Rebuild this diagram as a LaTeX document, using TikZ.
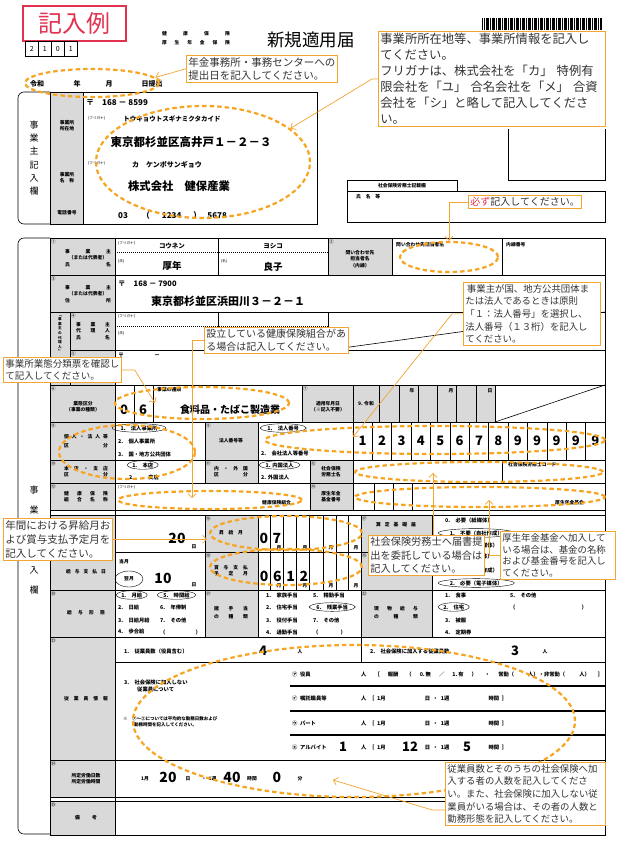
\documentclass[tikz,border=0pt]{standalone}
\usepackage{fontspec}
\setmainfont{Noto Sans CJK JP}
\usetikzlibrary{arrows.meta, positioning, shapes.geometric, calc}
\definecolor{note}{HTML}{F2A530}
\definecolor{markline}{HTML}{F7A520}
\definecolor{cellgray}{HTML}{D9D9D9}
\definecolor{stamp}{HTML}{E23250}
\newcommand{\spr}[2]{\makebox[#1pt]{#2}}

\begin{document}
\begin{tikzpicture}[
        x=1pt, y=-1pt,
        form/.style={line width=0.6pt},
        thickrule/.style={line width=1.6pt},
        dotrule/.style={line width=1pt, dash pattern=on 1pt off 1pt},
        lab/.style={font=\bfseries\fontsize{4.8}{6.2}\selectfont, align=center, inner sep=0},
        txt/.style={font=\bfseries\fontsize{5.3}{6.5}\selectfont, anchor=west, inner sep=0},
        small/.style={font=\fontsize{3.6}{3.6}\selectfont, anchor=west, inner sep=0},
        num/.style={font=\fontsize{4.5}{4.5}\selectfont, anchor=north west, inner sep=0},
        hand/.style={font=\bfseries\fontsize{#1}{#1}\selectfont, inner sep=0},
        chosen/.style={draw, ellipse, thin, inner sep=0.5pt},
        ring/.style={draw=markline, line width=2.2pt, dash pattern=on 4.5pt off 3pt, ellipse, inner sep=0},
        callout/.style 2 args={draw=note, line width=0.8pt, fill=white, align=left, anchor=north west,
            inner sep=2pt, text=black!80, font=\fontsize{#1}{#2}\selectfont},
        lead/.style={draw=note, line width=0.7pt, -{Straight Barb[length=4pt, width=8pt]}}
    ]

    \fill[white] (0,0) rectangle (621,850);
    \useasboundingbox (0,0) rectangle (621,850);

    % --- HEADER ---
    \node (stamp) [draw=stamp, line width=1.8pt, text=stamp, font=\fontsize{24}{24}\selectfont,
        minimum width=103pt, minimum height=35pt, inner sep=0, anchor=north west] at (22,5) {記入例};
    \foreach \d [count=\i] in {2,1,0,1}
        \node (code\i) [draw, form, minimum width=13pt, minimum height=15pt, inner sep=0,
            anchor=north west, font=\fontsize{7}{7}\selectfont] at ({25+13*(\i-1)},41) {\d};
    \node (hoken) [lab] at (196,34) {\spr{68}{健\hfill 康\hfill 保\hfill 険}};
    \node (nenkin) [lab] at (196,43) {\spr{68}{厚\hfill 生\hfill 年\hfill 金\hfill 保\hfill 険}};
    \node (title) [font=\fontsize{17.5}{17.5}\selectfont, inner sep=0] at (311,40) {新規適用届};
    \foreach \i in {0,...,59} {
        \pgfmathsetmacro\bw{0.5+0.5*mod(\i*7,3)}
        \fill (482+2*\i,18) rectangle ++(\bw,12);
    }
    \draw[form] (508,129) -- (508,180) -- (605,180) -- (605,129);

    \node (reiwa) [lab, font=\bfseries\fontsize{7}{7}\selectfont] at (37,84) {令和};
    \node (year) [lab, font=\bfseries\fontsize{7}{7}\selectfont] at (77,84) {年};
    \node (month) [lab, font=\bfseries\fontsize{7}{7}\selectfont] at (109,84) {月};
    \node (day) [lab, font=\bfseries\fontsize{7}{7}\selectfont] at (152,84) {日提出};

    % --- OWNER BLOCK ---
    \fill[cellgray] (50,92) rectangle (83,224);
    \draw[form, rounded corners=6pt] (50,92) -- (18,92) -- (18,224) -- (50,224);
    \draw[form] (50,92) rectangle (317,224);
    \draw[form] (83,92) -- (83,224);
    \node (owner) [font=\fontsize{9}{13.3}\selectfont, align=center, inner sep=0] at (34,158) {事\\業\\主\\記\\入\\欄};
    \node (lloc) [lab] at (67,126) {事業所\\所在地};
    \node (lname) [lab] at (67,178) {事業所\\\spr{14.4}{名\hfill 称}};
    \node (ltel) [lab] at (67,213) {電話番号};
    \node (zip1) [hand=8, anchor=west] at (86,103) {〒\hspace{8pt}168 － 8599};
    \node (kana1) [small] at (88,118) {(フリガナ)};
    \node (kaddr) [hand=6.5] at (172,119) {トウキョウトスギナミクタカイド};
    \node (addr) [hand=11.5] at (191,142) {東京都杉並区高井戸１－２－３};
    \node (kana2) [small] at (88,163) {(フリガナ)};
    \node (kname) [hand=7] at (167,165) {カ　ケンポサンギョウ};
    \node (office) [hand=11.3] at (179,186) {株式会社　健保産業};
    \node (tel) [hand=8, anchor=west] at (118,215) {03\hspace{14pt}（\hspace{12pt}1234\hspace{12pt}）\hspace{6pt}5678};

    \draw[form] (347,180) rectangle (457,191);
    \draw[form] (347,191) rectangle (605,222);
    \node (lsharo) [lab] at (402,185.5) {社会保険労務士記載欄};
    \node (lsign) [lab, anchor=west] at (356,197) {氏　名　等};

    % --- OFFICE FORM: GRID ---
    \fill[cellgray] (50,238) rectangle (115,510);
    \fill[cellgray] (50,515) rectangle (115,797);
    \fill[cellgray] (50,801) rectangle (115,835);
    \fill[cellgray] (328,238) rectangle (392,275);
    \fill[cellgray] (302,385) rectangle (495,422);
    \fill[cellgray] (205,422) rectangle (258,483);
    \fill[cellgray] (310,460) rectangle (353,510);
    \fill[cellgray] (205,515) rectangle (258,637);
    \fill[cellgray] (361,515) rectangle (432,637);

    \draw[form, rounded corners=6pt] (50,238) -- (18,238) -- (18,834) -- (50,834);
    \draw[form] (50,238) rectangle (605,835);
    \draw[form] (115,238) -- (115,835);
    \draw[form] (70,312) -- (70,385);
    \foreach \y in {275,312,385,422,460,483,510,515,590,637,760,797,801}
        \draw[form] (50,\y) -- (605,\y);
    \draw[form] (70,350) -- (605,350);
    \draw[form] (115,552) -- (432,552);
    \draw[form] (115,662) -- (605,662);

    \foreach \x in {218,328,392,502}
        \draw[form] (\x,238) -- (\x,275);
    \draw[dotrule] (115,252) -- (328,252);
    \draw[form] (218,312) -- (218,350);
    \draw[form] (328,312) -- (328,350);
    \draw[dotrule] (115,326) -- (328,326);
    \draw[form] (328,350) -- (605,312);
    \foreach \x in {134,153,302,353,379,399,418,437,456,476,495}
        \draw[form] (\x,385) -- (\x,422);
    \draw[form] (495,422) -- (605,385);
    \foreach \x in {205,258,353}
        \draw[form] (\x,422) -- (\x,460);
    \foreach \i in {1,...,12}
        \draw[form] ({353+19.385*\i},422) -- ++(0,38);
    \foreach \x in {205,258,310,353,502}
        \draw[form] (\x,460) -- (\x,483);
    \foreach \x in {310,353,374,393,412}
        \draw[form] (\x,483) -- (\x,510);
    \foreach \x in {205,258,361,432}
        \draw[form] (\x,515) -- (\x,637);
    \foreach \x in {270,283,296,309,323,336,348}
        \draw[form] (\x,515) -- (\x,590);
    \draw[form] (361,637) -- (361,662);
    \foreach \y in {686,711,735}
        \draw[thickrule] (290,\y) -- (605,\y);

    \node (office2) [font=\fontsize{9}{20}\selectfont, align=center, inner sep=0] at (34,540) {事\\業\\所\\記\\入\\欄};

    % --- ROWS 1-4 ---
    \node (c1) [num] at (51,239) {①};
    \node (lown) [lab] at (88,258) {\spr{46}{事\hfill 業\hfill 主}\\\spr{46}{（または代表者）}\\\spr{46}{氏\hfill 名}};
    \node (k1) [small] at (118,243) {(フリガナ)};
    \node (ksei) [hand=6.5] at (172,246) {コウネン};
    \node (kmei) [hand=6.5] at (273,246) {ヨシコ};
    \node (tsei) [small] at (118,261) {(氏)};
    \node (sei) [hand=9.5] at (172,266) {厚年};
    \node (tmei) [small] at (221,261) {(名)};
    \node (mei) [hand=9.5] at (273,267) {良子};
    \node (c2) [num] at (329,239) {②};
    \node (lcont) [lab] at (360,259) {問い合わせ先\\担当者名\\（内線）};
    \node (tcont) [lab, anchor=west] at (396,245) {問い合わせ先担当者名};
    \node (tline) [lab, anchor=west] at (506,245) {内線番号};

    \node (c3) [num] at (51,276) {③};
    \node (lhome) [lab] at (88,294) {\spr{46}{事\hfill 業\hfill 主}\\\spr{46}{（または代表者）}\\\spr{46}{住\hfill 所}};
    \node (zip2) [hand=7.5, anchor=west] at (118,284) {〒\hspace{8pt}168 － 7900};
    \node (home) [hand=11] at (228,301) {東京都杉並区浜田川３－２－１};

    \node (agentv) [font=\bfseries\fontsize{3.6}{4.6}\selectfont, align=center, inner sep=0] at (60,334) {﹁\\事\\業\\主\\の\\代\\理\\人\\﹂};
    \node (c4) [num] at (71,313) {④};
    \node (lagent) [lab] at (93,331) {\spr{34}{事\hfill 業\hfill 主}\\\spr{34}{代\hfill 理\hfill 人}\\\spr{34}{氏\hfill 名}};
    \node (k4) [small] at (118,316) {(フリガナ)};
    \node (t4) [small] at (118,333) {(氏)};
    \node (c5) [num] at (71,351) {⑤};
    \node (zip3) [hand=6, anchor=west] at (118,355) {〒\hspace{30pt}－};

    % --- ROWS 5-8 ---
    \node (c6) [num] at (51,386) {⑥};
    \node (lkind) [lab] at (83,407) {業態区分\\（事業の種類）};
    \node (kd1) [hand=13] at (124,410) {0};
    \node (kd2) [hand=13] at (143,410) {6};
    \node (tkindname) [lab, anchor=west] at (157,390) {事業の種類};
    \node (kind) [hand=10] at (230,410) {食料品・たばこ製造業};
    \node (c7) [num] at (303,386) {⑦};
    \node (ldate) [lab] at (328,407) {適用年月日\\（※記入不要）};
    \node (era) [lab] at (366,404) {9. 令和};
    \node (dy) [lab] at (412,391) {年};
    \node (dm) [lab] at (451,391) {月};
    \node (dd) [lab] at (490,391) {日};

    \node (c8) [num] at (51,423) {⑧};
    \node (lcorp) [lab] at (86,441) {\spr{44}{個\hfill 人\hfill ・\hfill 法\hfill 人\hfill 等}\\[3pt]\spr{44}{区\hfill 分}};
    \node (o11) [txt, chosen] at (112,428) {1.\quad 法人事業所};
    \node (o12) [txt] at (118,441) {2.\quad 個人事業所};
    \node (o13) [txt] at (118,454) {3.\quad 国・地方公共団体};
    \node (c9) [num] at (206,423) {⑨};
    \node (lnum) [lab] at (231,441) {法人番号等};
    \node (o21) [txt, chosen] at (260,428) {1.\quad 法人番号};
    \node (o22) [txt] at (261,453) {2.\quad 会社法人等番号};
    \foreach \d [count=\i] in {1,2,3,4,5,6,7,8,9,9,9,9,9}
        \node (dig\i) [hand=13] at ({353+19.385*(\i-0.5)},441) {\d};

    \node (c10) [num] at (51,461) {⑩};
    \node (lbranch) [lab] at (86,472) {\spr{44}{本\hfill 店\hfill ・\hfill 支\hfill 店}\\\spr{44}{区\hfill 分}};
    \node (o31) [txt, chosen] at (127,465) {1.\quad 本店};
    \node (o32) [txt] at (129,477) {2.\hspace{14pt}支店};
    \node (c11) [num] at (206,461) {⑪};
    \node (lforeign) [lab] at (231,472) {\spr{34}{内\hfill ・\hfill 外\hfill 国}\\\spr{34}{区\hfill 分}};
    \node (o41) [txt, chosen] at (259,465) {1. 内国法人};
    \node (o42) [txt] at (261,477) {2. 外国法人};
    \node (c12) [num] at (311,461) {⑫};
    \node (lsharo2) [lab] at (331,472) {社会保険\\労務士名};
    \node (tcode) [lab, anchor=west] at (508,465) {社会保険労務士コード};

    \node (c13) [num] at (51,484) {⑬};
    \node (lunion) [lab] at (86,497) {\spr{44}{健\hfill 康\hfill 保\hfill 険}\\\spr{44}{組\hfill 合\hfill 名\hfill 称}};
    \node (k8) [small] at (118,487) {(フリガナ)};
    \node (tunion) [lab, anchor=west] at (262,503) {健康保険組合};
    \node (c14) [num] at (311,484) {⑭};
    \node (lfund) [lab] at (331,497) {厚生年金\\基金番号};
    \node (tfundname) [lab, anchor=west] at (555,503) {厚生年金基金};

    % --- ROWS 9-11 ---
    \node (cutday) [hand=14] at (177,538) {20};
    \node (cutunit) [lab] at (194,547) {日};
    \node (c16) [num] at (206,516) {⑯};
    \node (lraise) [lab] at (231,533) {\spr{24}{昇\hfill 給\hfill 月}};
    \node (ra1) [hand=14] at (264,538) {0};
    \node (ra2) [hand=14] at (277,538) {7};
    \foreach \x [count=\i] in {279,305,331,356}
        \node (mr\i) [lab] at (\x,548) {月};
    \node (c17) [num] at (362,516) {⑰};
    \node (lcalc) [lab] at (396,525) {\spr{40}{算\hfill 定\hfill 基\hfill 礎\hfill 届}};
    \node (p1) [txt] at (445,521) {0.\quad 必要（紙媒体）};
    \node (p2) [txt, chosen] at (438,533) {1.\quad 不要（自社作成）};
    \node (p3) [txt] at (445,545) {2.\quad 必要（電子媒体）};
    \node (p4) [txt] at (445,557) {0.\quad 必要（紙媒体）};
    \node (p5) [txt] at (445,570) {1.\quad 不要（自社作成）};
    \node (p6) [txt, chosen] at (438,583) {2.\quad 必要（電子媒体）};

    \node (lpay) [lab] at (86,572) {\spr{40}{給\hfill 与\hfill 支\hfill 払\hfill 日}};
    \node (pthis) [lab] at (124,562) {当月};
    \node (pnext) [lab, chosen, minimum width=28pt, minimum height=16pt] at (129,579) {翌月};
    \node (payday) [hand=14] at (163,578) {10};
    \node (payunit) [lab] at (194,585) {日};
    \node (c18) [num] at (206,553) {⑱};
    \node (lbonus) [lab] at (231,571) {\spr{34}{賞\hfill 与\hfill 支\hfill 払}\\\spr{34}{予\hfill 定\hfill 月}};
    \foreach \d [count=\i] in {0,6,1,2}
        \node (bo\i) [hand=14] at ({251+13.2*\i},576) {\d};
    \foreach \x [count=\i] in {279,305,331,356}
        \node (mb\i) [lab] at (\x,586) {月};
    \node (c19) [num] at (362,553) {⑲};

    \node (c20) [num] at (51,591) {⑳};
    \node (lwage) [lab] at (86,613) {\spr{38}{給\hfill 与\hfill 形\hfill 態}};
    \node (w1) [txt, chosen] at (116,595) {1.\quad 月給};
    \node (w2) [txt] at (118,607) {2.\quad 日給};
    \node (w3) [txt] at (118,620) {3.\quad 日給月給};
    \node (w4) [txt] at (118,632) {4.\quad 歩合給};
    \node (w5) [txt, chosen] at (157,595) {5.\quad 時間給};
    \node (w6) [txt] at (160,607) {6.\quad 年俸制};
    \node (w7) [txt] at (160,620) {7.\quad その他};
    \node (w8) [txt] at (160,632) {（\hspace{30pt}）};
    \node (c21) [num] at (206,591) {㉑};
    \node (lallow) [lab] at (231,613) {\spr{34}{諸\hfill 手\hfill 当}\\[2pt]\spr{34}{の\hfill 種\hfill 類}};
    \node (a1) [txt] at (266,595) {1.\quad 家族手当};
    \node (a2) [txt] at (266,607) {2.\quad 住宅手当};
    \node (a3) [txt] at (266,620) {3.\quad 役付手当};
    \node (a4) [txt] at (266,632) {4.\quad 通勤手当};
    \node (a5) [txt] at (313,595) {5.\quad 精勤手当};
    \node (a6) [txt, chosen] at (309,607) {6.\quad 残業手当};
    \node (a7) [txt] at (313,620) {7.\quad その他};
    \node (a8) [txt] at (313,632) {（\hspace{22pt}）};
    \node (c22) [num] at (362,591) {㉒};
    \node (lgoods) [lab] at (396,613) {\spr{44}{現\hfill 物\hfill 給\hfill 与}\\[2pt]\spr{44}{の\hfill 種\hfill 類}};
    \node (g1) [txt] at (445,595) {1.\quad 食事};
    \node (g2) [txt, chosen] at (438,607) {2.\quad 住宅};
    \node (g3) [txt] at (445,620) {3.\quad 被服};
    \node (g4) [txt] at (445,632) {4.\quad 定期券};
    \node (g5) [txt] at (510,595) {5.\quad その他};
    \node (g6) [txt] at (510,607) {（\hspace{66pt}）};

    % --- ROWS 12-14 ---
    \node (c23) [num] at (51,638) {㉓};
    \node (lstaff) [lab] at (86,699) {\spr{44}{従\hfill 業\hfill 員\hfill 情\hfill 報}};
    \node (s1) [txt] at (124,651) {1.\quad 従業員数（役員含む）};
    \node (s1n) [hand=13] at (263,651) {4};
    \node (s1u) [lab] at (300,652) {人};
    \node (s2) [txt] at (370,651) {2.\quad 社会保険に加入する従業員数};
    \node (s2n) [hand=13] at (515,651) {3};
    \node (s2u) [lab] at (545,652) {人};
    \node (s3) [txt, align=left] at (124,686) {3.\quad 社会保険に加入しない\\\hspace*{13pt}従業員について};
    \node (snote) [txt, font=\bfseries\fontsize{4.5}{6}\selectfont, align=left] at (123,722)
        {※\quad ㋐～㋓については平均的な勤務日数および\\\hspace*{11pt}勤務時間を記入してください。};
    \node (ka) [txt] at (292,674) {㋐\enspace 役員};
    \node (kb) [txt] at (292,698) {㋑\enspace 嘱託職員等};
    \node (kc) [txt] at (292,723) {㋒\enspace パート};
    \node (kd) [txt] at (292,747) {㋓\enspace アルバイト};
    \node (kat) [txt] at (361,674) {\spr{242}{人\hfill ［\hfill 報酬\hfill （\hfill 0.\,無\hfill ／\hfill 1.\,有\hfill ）\hfill ・\hfill 常勤（\hspace{14pt}人）・非常勤（\hspace{14pt}人）\hfill ］}};
    \node (kbt) [txt] at (361,698) {\spr{146}{人\enspace［\enspace 1月\hfill 日\enspace ・\enspace 1週\hfill 時間\enspace ］}};
    \node (kct) [txt] at (361,723) {\spr{146}{人\enspace［\enspace 1月\hfill 日\enspace ・\enspace 1週\hfill 時間\enspace ］}};
    \node (kdt) [txt] at (361,747) {\spr{146}{人\enspace［\enspace 1月\hfill 日\enspace ・\enspace 1週\hfill 時間\enspace ］}};
    \node (kdn) [hand=13] at (343,747) {1};
    \node (kdd) [hand=13] at (410,747) {12};
    \node (kdh) [hand=13] at (467,747) {5};

    \node (c24) [num] at (51,761) {㉔};
    \node (lhours) [lab] at (86,779) {所定労働日数\\所定労働時間};
    \node (h1) [lab] at (145,779) {1月};
    \node (h2) [hand=14] at (168,777) {20};
    \node (h3) [lab] at (188,779) {日};
    \node (h4) [lab] at (209,779) {・\enspace 1週};
    \node (h5) [hand=14] at (232,777) {40};
    \node (h6) [lab] at (252,779) {時間};
    \node (h7) [hand=14] at (277,777) {0};
    \node (h8) [lab] at (300,779) {分};

    \node (c25) [num] at (51,802) {㉕};
    \node (lremark) [lab] at (86,818) {\spr{22}{備\hfill 考}};

    % --- MARKS ---
    \node (rdate) [ring, minimum width=134pt, minimum height=28pt] at (92,83) {};
    \node (raddr) [ring, minimum width=214pt, minimum height=112pt] at (203,162) {};
    \node (rcontact) [ring, minimum width=98pt, minimum height=30pt] at (449,257) {};
    \node (rkind) [ring, minimum width=174pt, minimum height=32pt] at (202,403) {};
    \node (rcorp) [ring, minimum width=136pt, minimum height=54pt] at (127,452) {};
    \node (rnum) [ring, minimum width=340pt, minimum height=28pt] at (435,440) {};
    \node (rsharo) [ring, minimum width=248pt, minimum height=20pt] at (479,472) {};
    \node (rfund) [ring, minimum width=250pt, minimum height=20pt] at (480,497) {};
    \node (rkumiai) [ring, minimum width=184pt, minimum height=18pt] at (210,500) {};
    \node (rraise) [ring, minimum width=152pt, minimum height=34pt] at (286,533) {};
    \node (rbonus) [ring, minimum width=152pt, minimum height=36pt] at (286,567) {};
    \node (rstaff) [ring, minimum width=442pt, minimum height=152pt] at (354,721) {};

    \coordinate (tkumiai) at (192,498);
    \coordinate (tkind) at (155,403);
    \coordinate (tnum) at (353,437);
    \coordinate (traise) at (207,542);
    \coordinate (tsharo) at (433,473);
    \coordinate (tfund) at (489,500);
    \coordinate (tstaff) at (333,780);

    % --- CALLOUTS ---
    \node (nsubmit) [callout={10.5}{13}] at (186,55) {年金事務所・事務センターへの\\提出日を記入してください。};
    \node (noffice) [callout={12.3}{16}, text width=223pt] at (378,31)
        {事業所所在地等、事業所情報を記入し\\てください。\\フリガナは、株式会社を「カ」 特例有\\限会社を「ユ」 合名会社を「メ」 合資\\会社を「シ」と略して記入してくださ\\い。};
    \node (nmust) [callout={10}{12}] at (468,195) {{\color{stamp}必ず}記入してください。};
    \node (nunion) [callout={10}{13}] at (204,327) {設立している健康保険組合があ\\る場合は記入してください。};
    \node (nbiz) [callout={9.5}{12.5}] at (3,357) {事業所業態分類票を確認し\\て記入してください。};
    \node (ncorp) [callout={9.4}{12.6}, text width=133pt] at (463,282)
        {\,事業主が国、地方公共団体ま\\たは法人であるときは原則\\「１：法人番号」を選択し、\\法人番号（１３桁）を記入し\\てください。};
    \node (nraise) [callout={10.5}{14}] at (3,518) {年間における昇給月お\\よび賞与支払予定月を\\記入してください。};
    \node (nsharo) [callout={10.2}{13.5}] at (368,535) {社会保険労務士へ届書提\\出を委託している場合は\\記入してください。};
    \node (nfund) [callout={9.4}{11.7}, text width=111pt] at (500,531)
        {厚生年金基金へ加入して\\いる場合は、基金の名称\\および基金番号を記入し\\てください。};
    \node (nstaff) [callout={9.4}{12.6}, text width=156pt] at (445,762)
        {従業員数とそのうちの社会保険へ加\\入する者の人数を記入してくださ\\い。また、社会保険に加入しない従\\業員がいる場合は、その者の人数と\\勤務形態を記入してください。};

    % --- LEADS ---
    \draw[lead] (nsubmit.west) -- (rdate.5);
    \draw[lead] (noffice.west) -- ++(-6,0) -- (raddr.21);
    \draw[lead] (nmust.west) -| (rcontact.north);
    \draw[lead] (nunion.west) -| (tkumiai);
    \draw[lead] (nbiz.east) -- ++(13,0) -- (tkind);
    \draw[lead] (ncorp.west) -- ++(-11,0) -- (tnum);
    \draw[lead] (nraise.east) -- (nraise.east -| traise);
    \draw[lead] (nsharo.north -| tsharo) -- (tsharo);
    \draw[lead] (nfund.west) -| (tfund);
    \draw[lead] ($(nstaff.south west)+(0,-16)$) -- ++(-13,0) -- (tstaff);

\end{tikzpicture}
\end{document}
